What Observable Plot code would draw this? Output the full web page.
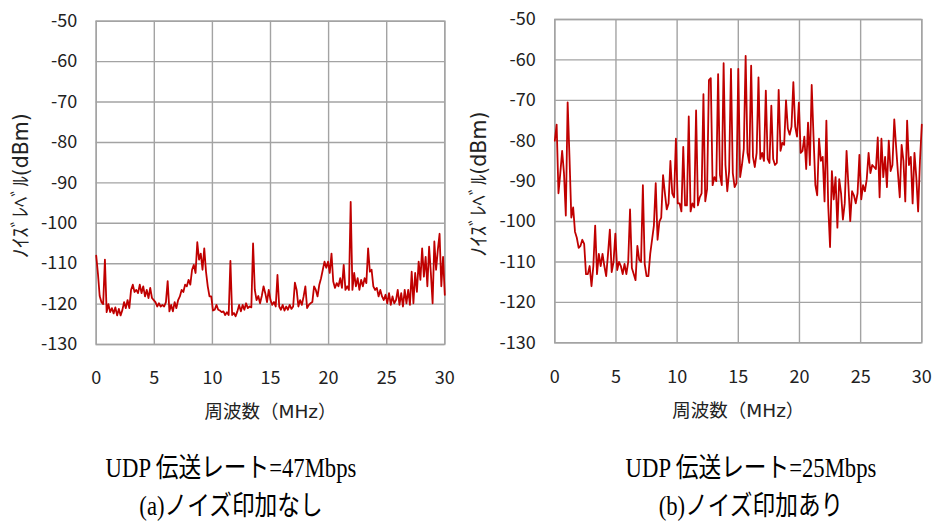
<!DOCTYPE html>
<html>
<head>
<meta charset="utf-8">
<script src="https://cdn.jsdelivr.net/npm/d3@7"></script>
<script src="https://cdn.jsdelivr.net/npm/@observablehq/plot@0.6"></script>
<style>
  html, body { margin: 0; padding: 0; background: #fff; }
  #page { position: relative; width: 933px; height: 522px; overflow: hidden; background: #fff; }
  .panel { position: absolute; top: 0; }
  .cap {
    position: absolute;
    font-family: "Liberation Serif", "DejaVu Serif", "Noto Sans CJK JP", serif;
    font-size: 27px;
    line-height: 1;
    color: #000;
    white-space: nowrap;
    transform: translate(-50%, -50%) scaleX(0.84);
  }
</style>
</head>
<body>
<div id="page"></div>
<script>
// Spectrum sweep: 0–30 MHz, one reading every 0.15 MHz (201 points)
const freqStep = 0.15;
const freqMHz = d3.range(201).map(i => +(i * freqStep).toFixed(2));

// (a) no injected noise, UDP 47 Mbps — noise level in dBm
const noiseA = [
  -108, -112.5, -118, -119.5, -120, -109, -122, -120, -122, -121,
  -122.3, -120.8, -122.8, -121.2, -122.8, -121.5, -119.5, -121, -119, -121,
  -116.5, -115.2, -117, -116.5, -117.3, -115.2, -117.3, -115.6, -118.1, -116.5,
  -118.5, -116, -118.5, -119, -119.5, -120.6, -119.8, -120.6, -120.2, -120.6,
  -119.5, -114.3, -121.8, -120.2, -121.8, -119.5, -121, -119, -118.1, -116.5,
  -117, -115.2, -115.6, -114, -115.2, -111.5, -110.3, -112.3, -104.7, -109,
  -107.5, -111.5, -106.2, -112, -115.6, -118.1, -118.1, -121.6, -121.4, -120.2,
  -121.4, -121.6, -122, -121.8, -122.7, -122, -122.7, -109.3, -122.7, -122.2,
  -123, -121.8, -120.2, -121.8, -120.2, -121.4, -119.8, -121, -120.6, -120.8,
  -105, -116.5, -119, -118, -119.8, -118, -115.6, -117.3, -119.5, -116.5,
  -119, -120.2, -119.5, -120.6, -112.8, -120.6, -121.4, -120.2, -121.6, -120.6,
  -121.4, -120.2, -121.2, -120.6, -114.7, -116.5, -120.6, -119, -120.2, -118.1,
  -115.6, -121, -120.2, -119.8, -119.5, -115.6, -116.5, -118.1, -115.2, -113.6,
  -111.5, -109.5, -111, -109.5, -112.3, -107.5, -114.4, -116, -114.8, -115.6,
  -113.6, -116, -110.3, -116.5, -115.6, -116.5, -94.7, -116.5, -112.3, -115.6,
  -113.6, -116.5, -114, -115.6, -113.6, -114.8, -106.2, -112, -111.5, -115.6,
  -116.5, -116, -118.1, -116.5, -118.1, -119, -117.7, -119.8, -117.3, -120.2,
  -118.1, -119.8, -119, -116.5, -120.2, -117.3, -120.6, -116.5, -119.8, -116.5,
  -120.2, -112, -119.8, -112.3, -117, -109.5, -114, -106.2, -113.2, -108.3,
  -115.6, -105.8, -112.3, -119.8, -104.5, -111.5, -106.6, -102.6, -115.6, -108.3,
  -117.7
];

// (b) with injected noise, UDP 25 Mbps — noise level in dBm
const noiseB = [
  -80, -76, -93, -88, -82.5, -88, -98.5, -70.5, -84, -99,
  -96.5, -102.5, -104, -106.5, -106, -104.5, -105.5, -113, -113, -111,
  -116, -111, -101, -113, -108, -111, -108, -111, -113.5, -108,
  -102, -112.5, -110, -103, -112, -110, -111, -113, -110.5, -113,
  -110, -97, -111.5, -113, -114.5, -106, -109.5, -110, -91, -110.5,
  -113.5, -113.5, -108, -104.5, -101, -90.5, -104.5, -100, -99, -88.5,
  -93, -97, -95.5, -85, -93, -94, -79.5, -95.5, -95.5, -97.5,
  -81.5, -96, -96, -74, -97.5, -95.5, -96.5, -72.5, -96, -94,
  -93, -68.5, -95, -92, -65, -64.5, -91, -89, -90, -63.5,
  -88.5, -91, -60.8, -86, -92.5, -87.5, -62.2, -88, -91.5, -90.5,
  -62.2, -89, -86, -82, -59, -83, -85.5, -61.4, -84, -86.5,
  -83, -64.3, -84.5, -83, -85, -67.6, -84.5, -85.5, -71.3, -84.5,
  -86, -85.5, -67.4, -82.5, -80.5, -81, -70, -77, -78.5, -76.5,
  -65.5, -76.5, -79, -70.6, -83, -82.5, -79, -87, -75.5, -86,
  -66.2, -79, -91, -93.5, -79.5, -85, -84, -95, -75, -96,
  -106.3, -87.5, -94.5, -89, -101.5, -89.5, -93, -99.5, -95.5, -82.5,
  -91, -99.9, -92.5, -93.5, -95.5, -93, -83.5, -94.5, -91, -92.5,
  -89.5, -83, -88, -86, -86.5, -87, -79.2, -94, -79.5, -89,
  -84, -91.5, -80, -87.5, -86, -74.7, -81.5, -88, -94, -81,
  -85, -95, -75, -86, -84, -95.5, -83, -89, -97.5, -85,
  -76
];

const xTicks = [0, 5, 10, 15, 20, 25, 30];
const yTicks = [-50, -60, -70, -80, -90, -100, -110, -120, -130];
const xTitle = "周波数（MHz）";
const yTitle = "ﾉｲｽﾞﾚﾍﾞﾙ(dBm)";
const captionsA = ["UDP 伝送レート=47Mbps", "(a)ノイズ印加なし"];
const captionsB = ["UDP 伝送レート=25Mbps", "(b)ノイズ印加あり"];

const gridColor = "#a3a3a3";
const lineColor = "#c00000";
const tickFont = "'Noto Sans CJK JP', 'Noto Sans', sans-serif";
const titleFont = "'DejaVu Sans', 'Noto Sans CJK JP', sans-serif";

function spectrumPanel(values, box) {
  const rows = freqMHz.map((f, i) => ({f, v: values[i]}));
  return Plot.plot({
    width: box.width,
    height: box.height,
    marginLeft: box.ml,
    marginRight: box.mr,
    marginTop: box.mt,
    marginBottom: box.mb,
    style: {fontFamily: tickFont, fontSize: "18px", color: "#222", background: "transparent", overflow: "visible"},
    x: {domain: [0, 30]},
    y: {domain: [-130, -50]},
    marks: [
      Plot.gridX(xTicks, {stroke: gridColor, strokeOpacity: 1, strokeWidth: 1.4}),
      Plot.gridY(yTicks, {stroke: gridColor, strokeOpacity: 1, strokeWidth: 1.4}),
      Plot.frame({stroke: gridColor, strokeWidth: 1.4}),
      Plot.axisX(xTicks, {tickSize: 0, tickPadding: 27, label: null, fontSize: 18}),
      Plot.axisY(yTicks, {tickSize: 0, tickPadding: 19, label: null, fontSize: 18, tickFormat: d => String(d)}),
      Plot.line(rows, {x: "f", y: "v", stroke: lineColor, strokeWidth: 1.8, strokeLinejoin: "round"}),
      Plot.text([xTitle], {text: d => d, frameAnchor: "bottom", dy: 68, textAnchor: "middle", lineAnchor: "middle", fontFamily: titleFont, fontSize: 18.5, fill: "#222"}),
      Plot.text([yTitle], {text: d => d, frameAnchor: "left", dx: -75, dy: 3, rotate: -90, textAnchor: "middle", lineAnchor: "middle", fontFamily: titleFont, fontSize: 20.5, fill: "#222"})
    ]
  });
}

const page = document.getElementById("page");

const left = spectrumPanel(noiseA, {width: 460, height: 430, ml: 95.7, mr: 15.7, mt: 20.7, mb: 86});
left.classList.add("panel");
left.style.left = "0px";
page.appendChild(left);

const right = spectrumPanel(noiseB, {width: 473, height: 430, ml: 94.3, mr: 11.7, mt: 19, mb: 87.7});
right.classList.add("panel");
right.style.left = "460px";
page.appendChild(right);

function caption(text, cx, cy) {
  const el = document.createElement("div");
  el.className = "cap";
  el.textContent = text;
  el.style.left = cx + "px";
  el.style.top = cy + "px";
  page.appendChild(el);
}
caption(captionsA[0], 231, 468);
caption(captionsA[1], 231, 506);
caption(captionsB[0], 751, 468);
caption(captionsB[1], 751, 506);
</script>
</body>
</html>
